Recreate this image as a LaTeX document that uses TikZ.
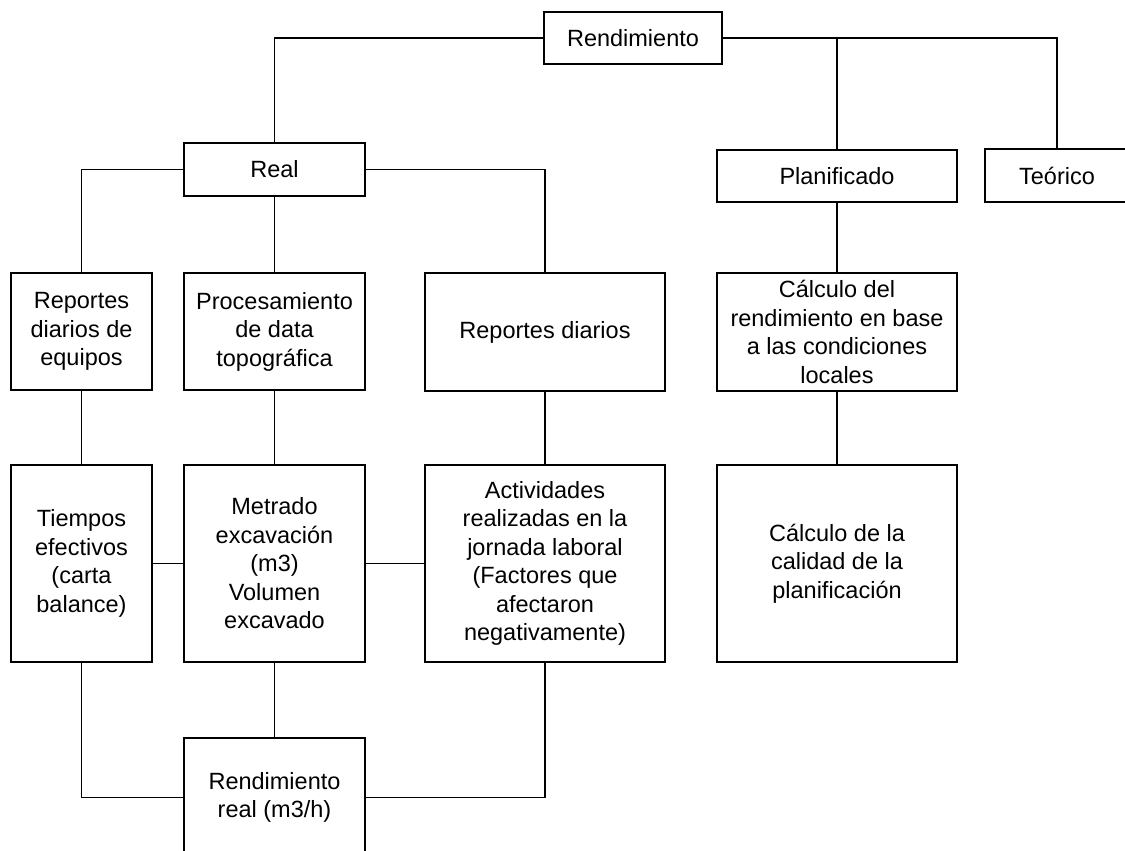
\documentclass[tikz,border=0pt]{standalone}
\usepackage{fontspec}
\setmainfont{Liberation Sans}
\begin{document}
\begin{tikzpicture}[x=1pt,y=-1pt,
  box/.style={draw=black,line width=1.6pt,rectangle,inner sep=0pt,align=center,
    font=\fontsize{23.5}{28.5}\selectfont},
  conn/.style={draw=black,line width=1.3pt}]
\clip (0,0) rectangle (1125,851);
\fill[white] (0,0) rectangle (1125,851);
% top level
\node[box,minimum width=178pt,minimum height=52pt] (rend) at (633,38) {Rendimiento};
\node[box,minimum width=181pt,minimum height=53pt] (real) at (274.5,169.5) {Real};
\node[box,minimum width=240pt,minimum height=52pt] (plan) at (837,176) {Planificado};
\node[box,minimum width=144pt,minimum height=53pt] (teo) at (1057,175.5) {Teórico};
% row 1
\node[box,minimum width=141pt,minimum height=117pt] (rep1) at (81.5,331.5) {Reportes\\diarios de\\equipos};
\node[box,minimum width=181pt,minimum height=117pt] (proc) at (274.5,331.5) {Procesamiento\\de data\\topográfica};
\node[box,minimum width=240pt,minimum height=118pt] (repd) at (545,332) {Reportes diarios};
\node[box,minimum width=240pt,minimum height=118pt] (calc1) at (837,332) {Cálculo del\\rendimiento en base\\a las condiciones\\locales};
% row 2
\node[box,minimum width=141pt,minimum height=197pt] (tiem) at (81.5,563.5) {Tiempos\\efectivos\\(carta\\balance)};
\node[box,minimum width=181pt,minimum height=197pt] (metr) at (274.5,563.5) {Metrado\\excavación\\(m3)\\Volumen\\excavado};
\node[box,minimum width=240pt,minimum height=197pt] (activ) at (545,563.5) {Actividades\\realizadas en la\\jornada laboral\\(Factores que\\afectaron\\negativamente)};
\node[box,minimum width=240pt,minimum height=197pt] (calid) at (837,563.5) {Cálculo de la\\calidad de la\\planificación};
% bottom
\node[box,minimum width=181pt,minimum height=119pt] (rreal) at (274.5,797.5) {Rendimiento\\real (m3/h)};
% connectors
\draw[conn] (rend.west) -| (real.north);
\draw[conn] (rend.east) -| (plan.north);
\draw[conn] (rend.east) -| (teo.north);
\draw[conn] (real.west) -| (rep1.north);
\draw[conn] (real.east) -| (repd.north);
\draw[conn] (real.south) -- (proc.north);
\draw[conn] (plan.south) -- (calc1.north);
\draw[conn] (rep1.south) -- (tiem.north);
\draw[conn] (proc.south) -- (metr.north);
\draw[conn] (repd.south) -- (activ.north);
\draw[conn] (calc1.south) -- (calid.north);
\draw[conn] (tiem.east) -- (metr.west);
\draw[conn] (metr.east) -- (activ.west);
\draw[conn] (tiem.south) |- (rreal.west);
\draw[conn] (metr.south) -- (rreal.north);
\draw[conn] (activ.south) |- (rreal.east);
\end{tikzpicture}
\end{document}
